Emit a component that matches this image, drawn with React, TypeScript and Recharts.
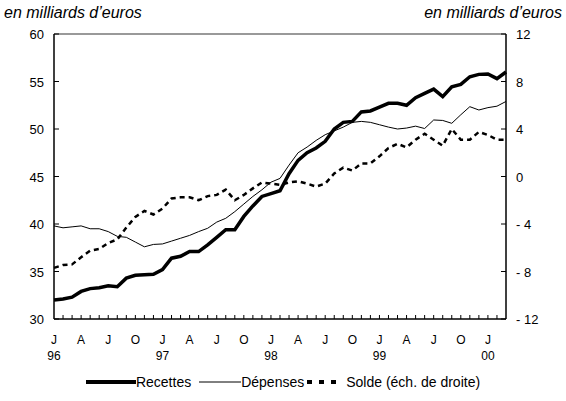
import React from 'react';
import { LineChart, Line, XAxis, YAxis, ReferenceLine } from 'recharts';

// mois de janvier 1996 à mars 2000 (index 0 = J 96)
const moisIndex = [
  0, 1, 2, 3, 4, 5, 6, 7, 8, 9, 10, 11,
  12, 13, 14, 15, 16, 17, 18, 19, 20, 21, 22, 23,
  24, 25, 26, 27, 28, 29, 30, 31, 32, 33, 34, 35,
  36, 37, 38, 39, 40, 41, 42, 43, 44, 45, 46, 47,
  48, 49, 50,
];

const recettes = [
  32.0, 32.1, 32.3, 32.9, 33.2, 33.3, 33.5, 33.4, 34.3, 34.6, 34.65, 34.7,
  35.2, 36.4, 36.6, 37.1, 37.1, 37.8, 38.6, 39.4, 39.4, 40.8, 41.9, 42.9,
  43.2, 43.5, 45.3, 46.7, 47.5, 48.0, 48.7, 50.0, 50.7, 50.8, 51.8, 51.9,
  52.3, 52.7, 52.7, 52.5, 53.3, 53.75, 54.2, 53.4, 54.45, 54.7, 55.5, 55.75,
  55.8, 55.3, 56.0,
];

const depenses = [
  39.8, 39.6, 39.7, 39.8, 39.5, 39.5, 39.2, 38.7, 38.6, 38.1, 37.6, 37.85,
  37.9, 38.2, 38.5, 38.8, 39.2, 39.55, 40.2, 40.6, 41.3, 42.1, 42.9, 43.6,
  44.4, 44.8, 46.2, 47.5, 48.1, 48.8, 49.4, 49.8, 50.2, 50.7, 50.8, 50.7,
  50.45, 50.2, 50.0, 50.1, 50.3, 50.05, 50.95, 50.9, 50.6, 51.5, 52.35, 52.0,
  52.25, 52.4, 52.9,
];

const solde = [
  -7.7, -7.45, -7.4, -6.8, -6.25, -6.1, -5.6, -5.3, -4.3, -3.4, -2.9, -3.2,
  -2.7, -1.85, -1.75, -1.75, -2.0, -1.65, -1.55, -1.1, -2.0, -1.55, -1.0, -0.5,
  -0.6, -0.7, -0.5, -0.4, -0.6, -0.85, -0.6, 0.25, 0.75, 0.5, 1.1, 1.1,
  1.7, 2.4, 2.75, 2.45, 3.1, 3.6, 3.1, 2.6, 4.0, 3.1, 3.1, 3.75,
  3.5, 3.1, 3.1,
];

// libellés trimestriels (tous les 3 mois) et années sous les janviers
const trimestres = ['J', 'A', 'J', 'O', 'J', 'A', 'J', 'O', 'J', 'A', 'J', 'O', 'J', 'A', 'J', 'O', 'J'];
const annees = ['96', '97', '98', '99', '00'];

const leftTicks = [30, 35, 40, 45, 50, 55, 60];
const rightTicks = [-12, -8, -4, 0, 4, 8, 12];

const data = moisIndex.map((m, i) => ({
  m,
  recettes: recettes[i],
  depenses: depenses[i],
  solde: solde[i],
}));

const FONT = 'Liberation Sans, Arial, sans-serif';

const fmtRight = (v: number) => (v < 0 ? `- ${Math.abs(v)}` : `${v}`);

const LeftTick = (props: any) => {
  const { x, y, payload } = props;
  return (
    <g>
      <line x1={x} x2={x + 5} y1={y} y2={y} stroke="#000" />
      <text x={x - 10} y={y} dy={5} textAnchor="end" fontSize={13} fontFamily={FONT} fill="#000">
        {payload.value}
      </text>
    </g>
  );
};

const RightTick = (props: any) => {
  const { x, y, payload } = props;
  return (
    <g>
      <line x1={x - 5} x2={x} y1={y} y2={y} stroke="#000" />
      <text x={x + 10} y={y} dy={5} textAnchor="start" fontSize={13} fontFamily={FONT} fill="#000">
        {fmtRight(payload.value)}
      </text>
    </g>
  );
};

const MonthTick = (props: any) => {
  const { x, y, payload } = props;
  const m = payload.value as number;
  const showLabel = m % 3 === 0;
  const showYear = m % 12 === 0;
  return (
    <g>
      {m > 0 && m < 50 && <line x1={x} x2={x} y1={y} y2={y - 4} stroke="#000" />}
      {showLabel && (
        <text x={x} y={y + 25} textAnchor="middle" fontSize={12} fontFamily={FONT} fill="#000">
          {trimestres[m / 3]}
        </text>
      )}
      {showYear && (
        <text x={x} y={y + 41} textAnchor="middle" fontSize={12} fontFamily={FONT} fill="#000">
          {annees[m / 12]}
        </text>
      )}
    </g>
  );
};

const LegendRow = () => (
  <div
    style={{
      position: 'absolute',
      top: 374,
      left: 0,
      width: 566,
      display: 'flex',
      justifyContent: 'center',
      alignItems: 'center',
      fontFamily: FONT,
      fontSize: 14,
      color: '#000',
    }}
  >
    <svg width={50} height={10}>
      <line x1={0} x2={50} y1={5} y2={5} stroke="#000" strokeWidth={4} />
    </svg>
    <span style={{ marginRight: 8 }}>Recettes</span>
    <svg width={42} height={10}>
      <line x1={0} x2={42} y1={5} y2={5} stroke="#000" strokeWidth={1} />
    </svg>
    <span>Dépenses</span>
    <svg width={36} height={10}>
      <line x1={3} x2={36} y1={5} y2={5} stroke="#000" strokeWidth={4} strokeDasharray="5 7" />
    </svg>
    <span style={{ marginLeft: 6 }}>Solde (éch. de droite)</span>
  </div>
);

export default function App() {
  return (
    <div style={{ position: 'absolute', left: 0, top: 0, width: 566, height: 401, background: '#fff' }}>
      <div style={{ position: 'absolute', left: 4, top: 4, fontFamily: FONT, fontSize: 16, fontStyle: 'italic' }}>
        en milliards d’euros
      </div>
      <div style={{ position: 'absolute', right: 4, top: 4, fontFamily: FONT, fontSize: 16, fontStyle: 'italic' }}>
        en milliards d’euros
      </div>
      <LineChart
        width={566}
        height={401}
        data={data}
        margin={{ top: 34, right: 0, left: 0, bottom: 32 }}
      >
        <XAxis
          dataKey="m"
          type="number"
          domain={[0, 50]}
          ticks={moisIndex}
          interval={0}
          tick={<MonthTick />}
          tickLine={false}
          tickSize={0}
          tickMargin={0}
          axisLine={{ stroke: '#000', strokeWidth: 1.5 }}
          height={50}
        />
        <YAxis
          yAxisId="left"
          orientation="left"
          domain={[30, 60]}
          ticks={leftTicks}
          tick={<LeftTick />}
          tickLine={false}
          tickSize={0}
          tickMargin={0}
          axisLine={{ stroke: '#000', strokeWidth: 1.5 }}
          width={54}
          interval={0}
        />
        <YAxis
          yAxisId="right"
          orientation="right"
          domain={[-12, 12]}
          ticks={rightTicks}
          tick={<RightTick />}
          tickLine={false}
          tickSize={0}
          tickMargin={0}
          axisLine={{ stroke: '#000', strokeWidth: 1.5 }}
          width={60}
          interval={0}
        />
        <ReferenceLine yAxisId="left" y={60} stroke="#777" strokeWidth={1.5} />
        <Line
          yAxisId="left"
          type="linear"
          dataKey="depenses"
          stroke="#000"
          strokeWidth={1}
          dot={false}
          isAnimationActive={false}
        />
        <Line
          yAxisId="right"
          type="linear"
          dataKey="solde"
          stroke="#000"
          strokeWidth={2.5}
          strokeDasharray="5 4"
          dot={false}
          isAnimationActive={false}
        />
        <Line
          yAxisId="left"
          type="linear"
          dataKey="recettes"
          stroke="#000"
          strokeWidth={3.5}
          dot={false}
          isAnimationActive={false}
        />
      </LineChart>
      <LegendRow />
    </div>
  );
}
